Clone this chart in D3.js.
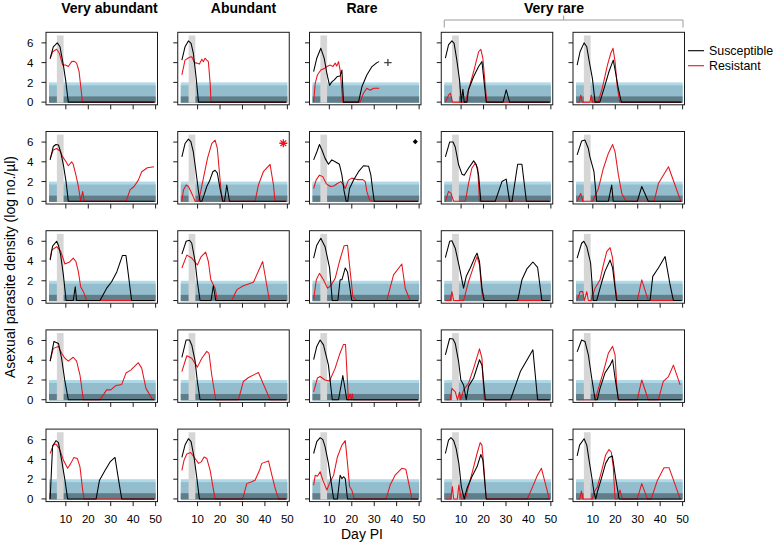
<!DOCTYPE html>
<html><head><meta charset="utf-8">
<script src="https://cdn.jsdelivr.net/npm/d3@7"></script>
<style>
body{margin:0;background:#fff}
svg{display:block}
text{font-family:"Liberation Sans",Arial,Helvetica,sans-serif;fill:#000}
</style>
</head><body>
<script>
// ---------------- data ----------------
const columnTitles = ["Very abundant", "Abundant", "Rare", "Very rare"];
const seriesNames = ["Susceptible", "Resistant"];
const xTicks = [10, 20, 30, 40, 50];
const yTicks = [0, 2, 4, 6];
const xDomain = [1.16, 50.84];
const yDomain = [-0.27, 7.07];
const treatmentDays = [6, 9];
const treatmentTop = 6.75;
const bandRange = [2.5, 50];
const bandLevels = [2, 1.7, 0.58];

// [day, log density] for each panel, row by row (5 panels per row)
const susceptibleRow1 = [
  [[3,4.4],[4.4,5.6],[6.2,6.0],[7.4,5.6],[8.9,3.75],[9.9,2.25],[11.1,0],[49.5,0]],
  [[3,4.25],[4.4,5.6],[5.9,6.2],[7.1,5.95],[8.1,4.95],[9.3,2.6],[10.4,0],[49.5,0]],
  [[3,3.1],[4.4,4.45],[6.2,5.45],[7.7,4.45],[8.9,2.9],[10.1,1.7],[11.1,2.05],[12.2,2.25],[13.6,2.6],[14.8,2.65],[15.6,3.25],[16.3,0],[23,0],[24.5,1.55],[26.7,2.75],[29,3.6],[31.2,4.0],[32.2,4.1]],
  [[3,4.45],[4.4,5.8],[5.9,6.2],[6.9,5.95],[8.1,4.25],[9.3,2.25],[10.1,0],[10.8,1.3],[11.4,0],[12.6,0],[13.3,1.25],[15.6,2.6],[17.8,3.6],[19.3,4.1],[20,2.6],[21.2,0],[28.7,0],[30.1,1.25],[31.6,0],[49.5,0]],
  [[3,3.75],[4.3,5.1],[6.1,6.0],[7.3,5.6],[8.3,4.25],[9.8,2.4],[11,0],[13.1,0],[15,1.4],[17.2,3.1],[19.1,4.25],[20.2,2.9],[21.2,1.55],[22.7,0],[49.5,0]]
];
const resistantRow1 = [
  [[3,4.4],[4.1,5.1],[5.9,5.35],[7.1,4.95],[8.6,3.75],[9.8,3.75],[11.1,3.6],[12.6,4.1],[13.6,4.15],[14.8,3.95],[15.9,3.1],[16.8,1.25],[17.4,0],[49.5,0]],
  [[3,2.75],[4.4,4.25],[6.4,4.55],[7.4,4.6],[8.6,4.0],[9.6,3.95],[10.8,3.85],[11.9,4.35],[12.6,4.1],[13.3,4.45],[14.1,4.25],[14.8,4.1],[15.6,1.9],[16,0],[49.5,0]],
  [[3,0],[3.7,1.9],[4.7,2.75],[6.2,3.25],[7.7,3.4],[8.9,3.6],[10.4,3.75],[11.6,3.6],[12.6,3.95],[13.3,3.65],[14.1,4.1],[14.8,3.25],[16,0],[23.7,0],[25.2,0.9],[26.7,1.4],[28.2,1.2],[29.7,1.4],[32.2,1.4]],
  [[3,0],[4.4,0.7],[5.2,0.9],[6.2,0],[11.9,0],[13.3,1.25],[15.6,3.1],[17.8,5.1],[18.8,5.35],[19.7,4.45],[20.8,1.55],[21.5,0],[49.5,0]],
  [[3,0],[4,0],[4.6,0.7],[5.3,0],[8.7,0],[9.3,0.7],[9.9,0],[12.3,0],[14.2,1.4],[16.5,3.75],[18,4.95],[19,5.45],[19.9,4.1],[20.9,1.55],[22,0],[49.5,0]]
];
const susceptibleRow2 = [
  [[3,4.2],[4.4,5.55],[5.6,5.75],[6.7,5.7],[7.7,5.0],[8.9,3.7],[10.1,2.0],[11.1,0],[49.5,0]],
  [[3,4.5],[4.4,5.85],[5.9,6.3],[7,6.05],[8.1,5.0],[9.3,3.0],[10.4,1.0],[11.1,0],[11.9,0],[12.9,0.65],[14.1,1.5],[15.3,2.05],[16.8,3.0],[17.8,3.15],[18.8,2.85],[20,1.3],[21.2,0],[22,0],[23,1.65],[24.2,0],[49.5,0]],
  [[3,4.2],[4.4,5.0],[5.6,5.75],[6.7,5.2],[8.1,4.35],[9.6,3.75],[11.1,4.2],[12.6,4.0],[14.5,3.75],[15.6,2.65],[16.6,1.0],[17.5,0],[18.2,0],[19,1.3],[20.8,2.15],[23,3.0],[25.2,3.6],[27.5,3.55],[28.5,2.65],[29.4,1.0],[30,0],[49.5,0]],
  [[3,4.5],[4.9,6.0],[6.4,6.0],[7.4,5.5],[8.9,3.7],[10.4,2.75],[11.4,2.65],[13.3,3.35],[15.6,4.1],[16.8,3.7],[17.8,2.65],[18.8,0],[25.2,0],[28.2,2.0],[30.1,2.25],[31.6,0],[32.7,0],[35.2,3.75],[37.1,3.75],[39.1,0],[49.5,0]],
  [[3,4.7],[5,6.1],[6.5,6.2],[8,5.35],[8.7,4.5],[10.5,3.0],[11.7,0],[16.9,0],[18.4,1.65],[19.1,0],[29.8,0],[31.8,1.5],[34.7,0],[49.5,0]]
];
const resistantRow2 = [
  [[3,4.35],[4.4,5.2],[5.9,5.35],[7.4,5.1],[8.6,4.5],[10.1,4.0],[11.1,3.6],[12.6,4.0],[13.3,3.75],[14.5,2.65],[15.6,1.5],[16.6,0],[17.5,1.0],[18.2,0],[36.8,0],[38.6,1.15],[40.4,1.5],[42.3,2.15],[43.8,3.0],[46.3,3.4],[49.3,3.5]],
  [[3,0],[3.7,1.15],[4.9,1.65],[5.9,1.5],[7,1.0],[8.1,0.45],[8.9,0],[10.4,0],[11.4,1.0],[12.6,2.35],[14.4,4.35],[16.3,5.85],[17.8,6.2],[18.8,5.35],[19.7,3.0],[20.5,1.0],[21.2,0],[35.6,0],[37.1,1.65],[39.3,3.0],[42.3,3.75],[43.8,1.65],[44.5,0],[49.5,0]],
  [[3,1.3],[4.1,2.15],[5.6,2.65],[7.1,2.5],[8.6,1.8],[10.4,1.5],[11.9,1.55],[13.6,1.8],[15.1,2.0],[16.3,1.65],[17.1,1.3],[18.5,2.15],[20,2.35],[22.3,2.2],[24.9,2.2],[26,2.0],[26.7,1.0],[27.9,0.15],[29,0],[49.5,0]],
  [[3,0],[4.4,1.0],[5.5,0.8],[6.7,0],[11.9,0],[13.3,1.8],[14.8,3.35],[16.3,3.85],[17.4,3.35],[18.2,0],[49.5,0]],
  [[3,0],[4.6,0.8],[5.5,0],[9.9,0],[12.5,1.3],[14.7,3.35],[16.9,4.85],[18.8,5.75],[19.9,5.0],[21.4,2.65],[22.9,0.8],[24.8,0],[37.3,0],[39.2,1.8],[43.7,3.5],[47.4,1.15],[49.2,0]]
];
const susceptibleRow3 = [
  [[3,4.1],[4.1,5.5],[5.9,6.0],[6.7,5.6],[7.7,4.6],[8.9,2.6],[10.1,0],[13.3,0],[14.2,1.4],[14.8,0],[25.2,0],[28.2,1.25],[30.4,1.9],[32.7,2.9],[35.2,4.55],[36.8,4.55],[39.3,0],[49.5,0]],
  [[3,4.7],[4.9,6.0],[6.4,6.1],[7.4,5.8],[8.9,3.95],[9.9,1.9],[11.1,0],[16,0],[17,1.5],[18.1,0],[49.5,0]],
  [[3,4.3],[4.4,5.6],[6.2,6.3],[8.1,5.45],[10.1,3.3],[11.3,0],[13.8,0],[14.8,2.1],[15.6,2.1],[17.1,3.3],[18.1,2.9],[20,0],[49.5,0]],
  [[3,4.35],[4.9,6.0],[5.9,6.05],[7.4,5.3],[9.3,3.3],[11.1,1.25],[12.3,2.45],[14.1,3.3],[16.3,4.45],[17.1,4.8],[18.2,3.95],[19.3,1.25],[20.3,0],[35.2,0],[37.1,2.1],[39.3,3.2],[42,3.9],[44.1,3.35],[46,0],[49.5,0]],
  [[3,4.3],[5,5.8],[6,6.0],[7.3,5.45],[9,3.8],[10.2,0],[11.7,0],[14,1.9],[15.4,2.95],[17.7,4.1],[18.8,3.3],[20.6,0],[35.5,0],[36.7,2.45],[39.2,3.3],[42.2,4.45],[44.4,1.6],[45.9,0],[49.5,0]]
];
const resistantRow3 = [
  [[3,4.2],[3.7,5.1],[5.9,5.45],[7.7,5.0],[9.6,3.7],[11.6,3.9],[13.3,4.3],[14.5,3.95],[15.6,2.9],[16.6,1.4],[17.8,0.9],[19.3,0],[49.5,0]],
  [[3,3.3],[5.2,4.6],[7.4,4.3],[9.9,3.6],[11.6,4.45],[13.6,4.9],[14.8,3.95],[15.9,2.1],[17.8,1.25],[18.8,0],[25.2,0],[27.5,1.1],[30.4,1.5],[34.9,1.85],[39,3.95],[42,0],[49.5,0]],
  [[3,0.1],[4.2,2.1],[5.6,2.75],[7.4,2.1],[9.2,1.25],[10.7,1.5],[12.6,2.25],[14.5,3.95],[16.6,5.55],[18.1,5.6],[19.3,2.9],[20.5,0.4],[22.3,0],[35.6,0],[38.6,2.6],[42.3,3.7],[43.8,1.25],[46,0],[49.5,0]],
  [[3,0],[5.2,0],[5.9,0.9],[6.7,0],[11.1,0],[13.3,1.9],[15.6,3.45],[17.1,4.45],[18.2,3.6],[19.3,0.75],[20.3,0],[49.5,0]],
  [[3,0],[4.3,0.9],[5.5,0.9],[6.2,0],[7.3,0.9],[8,0],[9.2,0],[11,1.25],[13.2,2.1],[14.7,3.6],[16.2,4.95],[17.7,5.35],[18.8,4.3],[19.9,1.6],[20.9,0],[29.8,0],[31.8,2.1],[34.7,0],[49.5,0]]
];
const susceptibleRow4 = [
  [[3,3.9],[4.7,5.9],[6.7,5.7],[8.1,4.2],[9.6,1.85],[11.1,0],[49.5,0]],
  [[3,4.3],[4.9,6.05],[6.4,6.05],[7.4,5.55],[8.9,3.9],[9.9,1.85],[11.1,0],[49.5,0]],
  [[3,4.05],[4.4,5.4],[5.9,6.05],[7.4,5.55],[9.6,3.5],[11.3,0],[14.1,0],[16,2.45],[17.8,0],[49.5,0]],
  [[3,4.55],[4.9,6.2],[6.4,6.15],[7.4,5.7],[8.9,3.85],[9.9,2.0],[11.1,1.5],[12.3,0],[13.3,1.35],[15.6,2.2],[18.2,4.05],[19.3,3.5],[20.8,0],[32,0],[36.4,2.85],[42,5.05],[44.1,0],[49.5,0]],
  [[3,4.85],[5,6.05],[6.5,5.9],[8,4.55],[9.5,2.2],[11,0],[12,0],[13.2,1.15],[15.4,2.7],[17.7,3.5],[18.8,4.05],[19.9,2.2],[21.4,0],[49.5,0]]
];
const resistantRow4 = [
  [[3,3.9],[4.4,5.2],[6.7,5.4],[8.1,4.7],[9.6,4.2],[11.1,3.9],[13.3,4.3],[14.8,3.9],[16.3,2.5],[17.8,0],[25.2,0],[28.2,1.0],[30,1.0],[32.4,1.45],[34.9,1.55],[36.8,2.7],[38.9,3.0],[42.3,3.75],[43.8,3.2],[45.7,1.15],[48.7,0]],
  [[3,2.85],[5.2,4.45],[7.4,4.2],[9.9,3.3],[11.9,4.2],[14.1,4.9],[15.1,4.7],[16.3,2.5],[18.1,0],[28.2,0],[30.4,1.85],[32.7,2.25],[37.1,2.75],[42.3,0],[49.5,0]],
  [[3,0.8],[4.7,2.2],[5.9,2.35],[8.1,2.0],[10.1,1.9],[12.6,3.2],[14.5,4.55],[16.3,5.6],[17.2,5.6],[18.5,0],[19.2,0.6],[19.8,0],[20.2,0.6],[20.7,0],[49.5,0]],
  [[3,0],[5.2,0],[5.9,1.15],[7.4,0.8],[8.4,0],[9.3,0.75],[9.9,0],[11.1,1.0],[13.3,1.65],[15.6,3.2],[18.2,5.15],[19.3,4.2],[20.3,0],[49.5,0]],
  [[3,0],[11,0],[12.5,1.15],[14.7,2.85],[16.9,4.7],[18.8,5.4],[19.9,4.55],[20.6,1.5],[21.4,0],[29.8,0],[31.8,2.0],[34.7,0],[39.2,0],[41.4,1.85],[43.7,2.35],[45.9,3.5],[48.9,1.5]]
];
const susceptibleRow5 = [
  [[3,0],[4.1,5.35],[5.6,5.9],[6.7,5.7],[8.1,3.95],[9.6,1.9],[10.8,0],[23.5,0],[25,1.9],[27.5,2.9],[29.7,3.75],[31.9,4.2],[33.4,2.05],[34.9,0],[49.5,0]],
  [[3,4.2],[4.4,5.45],[5.9,6.1],[7.1,5.8],[8.4,4.25],[9.6,2.25],[10.8,0],[49.5,0]],
  [[3,4.6],[4.4,5.8],[5.9,6.2],[7.1,6.0],[8.1,5.3],[9.6,3.6],[11.1,1.25],[11.9,0],[13.6,0],[14.8,2.4],[15.6,2.05],[16.3,2.25],[17.1,2.05],[18.1,0],[49.5,0]],
  [[3,4.6],[4.4,5.95],[5.5,6.2],[6.7,5.9],[7.8,5.1],[9,3.6],[10.1,1.25],[11.4,0],[12.6,1.05],[14.8,2.25],[17.1,3.25],[18.8,4.5],[19.7,3.95],[21.2,0],[49.5,0]],
  [[3,4.35],[4.1,5.45],[6.1,6.1],[7.3,5.45],[8.3,3.95],[9.5,2.25],[10.5,0.7],[11.3,0],[12,0.7],[13.8,2.05],[15.7,3.6],[17.2,4.2],[18.7,4.35],[20.2,2.05],[21.7,0],[49.5,0]]
];
const resistantRow5 = [
  [[3,4.6],[4.4,5.45],[5.6,5.55],[7.1,5.1],[8.9,3.95],[10.8,3.1],[12.2,3.6],[13.6,4.2],[15.1,4.1],[16.3,3.25],[17.5,0.9],[18.1,0],[49.5,0]],
  [[3,2.9],[4,3.95],[5.2,4.55],[6.9,4.7],[8.4,4.25],[10.4,3.6],[11.6,3.75],[12.9,4.25],[14.1,4.1],[15.6,2.9],[17.1,0.9],[17.8,0],[30.1,0],[31.9,1.55],[34.1,1.75],[35.6,1.9],[37.6,2.9],[38.6,3.6],[41.6,3.85],[43.1,2.4],[44.6,1.05],[46.1,0],[49.5,0]],
  [[3,1.4],[3.7,2.4],[4.7,2.3],[5.9,2.75],[7.1,1.9],[8.9,0.9],[10.4,1.75],[11.9,2.4],[13.6,4.25],[15.6,5.45],[17.1,5.9],[18.1,3.6],[19,1.25],[20,0.9],[21.1,0],[35.3,0],[37.1,1.4],[39.3,2.4],[42.3,3.1],[44.1,3.0],[45.7,1.25],[46.8,0],[49.5,0]],
  [[3,0],[5.4,0],[6.1,1.25],[6.7,0],[8.3,0],[9,1.4],[10.1,0],[11.9,0],[13.3,1.25],[15.6,3.25],[17.1,4.6],[18.5,5.7],[19.3,5.45],[20,3.6],[21.2,0],[39.5,0],[42,1.3],[44,2.4],[45.8,3.1],[49.3,0]],
  [[3,0],[4.2,0],[4.9,0.8],[5.6,0],[9.8,0],[10.5,0.7],[12,1.2],[13.8,2.75],[15.7,4.45],[17.2,5.0],[18.2,4.75],[19.1,3.25],[19.9,0],[20.9,0],[22.1,0.9],[23.1,0],[29.8,0],[31.8,1.55],[34.3,0],[36,0],[38.8,1.9],[41.7,3.15],[44,3.15],[48.9,0]]
];

// annotation symbols: [row, col, day, value, kind]
const annotations = [
  [0, 2, 36.1, 4.0, "plus"],
  [1, 1, 48.2, 5.88, "asterisk"],
  [1, 2, 48.3, 6.04, "diamond"]
];

const susceptible = [susceptibleRow1, susceptibleRow2, susceptibleRow3, susceptibleRow4, susceptibleRow5];
const resistant = [resistantRow1, resistantRow2, resistantRow3, resistantRow4, resistantRow5];

// ---------------- layout ----------------
const W = 774, H = 544;
const panelW = 111.5, panelH = 72.5;
const colStep = 131.75, rowStep = 99.2;
const left0 = 46, top0 = 32.3;
const titleX = [109.5, 243.5, 362, 554];
const colorS = "#000000", colorR = "#e8141c";
const bandColors = ["#b0d9e7", "#93bdcc", "#607e89"];
const greyBand = "#d6d6d6";

const svg = d3.select("body").append("svg").attr("width", W).attr("height", H);

const x = d3.scaleLinear().domain(xDomain).range([0, panelW]);
const y = d3.scaleLinear().domain(yDomain).range([panelH, 0]);
const line = d3.line().x(d => x(d[0])).y(d => y(d[1]));

for (let r = 0; r < 5; r++) {
  for (let c = 0; c < 5; c++) {
    const g = svg.append("g").attr("transform", `translate(${left0 + c * colStep},${top0 + r * rowStep})`);
    // threshold bands
    bandLevels.forEach((lv, i) => {
      g.append("rect")
        .attr("x", x(bandRange[0])).attr("width", x(bandRange[1]) - x(bandRange[0]))
        .attr("y", y(lv)).attr("height", y(-0.06) - y(lv))
        .attr("fill", bandColors[i]);
    });
    // treatment window
    g.append("rect")
      .attr("x", x(treatmentDays[0])).attr("width", x(treatmentDays[1]) - x(treatmentDays[0]))
      .attr("y", y(treatmentTop)).attr("height", y(-0.06) - y(treatmentTop))
      .attr("fill", greyBand);
    // lines
    g.append("path").attr("d", line(resistant[r][c])).attr("fill", "none")
      .attr("stroke", colorR).attr("stroke-width", 1.05).attr("stroke-linejoin", "round");
    g.append("path").attr("d", line(susceptible[r][c])).attr("fill", "none")
      .attr("stroke", colorS).attr("stroke-width", 1.05).attr("stroke-linejoin", "round");
    // box
    g.append("rect").attr("x", 0).attr("y", 0).attr("width", panelW).attr("height", panelH)
      .attr("fill", "none").attr("stroke", "#1a1a1a").attr("stroke-width", 1);
    // y ticks
    yTicks.forEach(t => {
      g.append("line").attr("x1", 0).attr("x2", -4.5).attr("y1", y(t)).attr("y2", y(t))
        .attr("stroke", "#1a1a1a").attr("stroke-width", 1);
      if (c === 0) {
        g.append("text").attr("x", -12.5).attr("y", y(t)).attr("dy", "0.36em")
          .attr("text-anchor", "end").attr("font-size", 11.5).text(t);
      }
    });
    // x ticks
    xTicks.forEach(t => {
      g.append("line").attr("x1", x(t)).attr("x2", x(t)).attr("y1", panelH).attr("y2", panelH + 4.5)
        .attr("stroke", "#1a1a1a").attr("stroke-width", 1);
      if (r === 4) {
        g.append("text").attr("x", x(t)).attr("y", panelH + 21).attr("text-anchor", "middle")
          .attr("font-size", 11.5).text(t);
      }
    });
  }
}

// annotations
annotations.forEach(([r, c, d, v, kind]) => {
  const cx = left0 + c * colStep + x(d), cy = top0 + r * rowStep + y(v);
  const g = svg.append("g").attr("transform", `translate(${cx},${cy})`);
  if (kind === "plus") {
    g.append("path").attr("d", "M-3.7,0H3.7M0,-3.5V3.5").attr("stroke", "#444").attr("stroke-width", 1.3);
  } else if (kind === "asterisk") {
    g.append("path").attr("d", "M-4,0H4M0,-4V4M-2.9,-2.9L2.9,2.9M-2.9,2.9L2.9,-2.9")
      .attr("stroke", colorR).attr("stroke-width", 1.3);
  } else if (kind === "diamond") {
    g.append("path").attr("d", d3.symbol().type(d3.symbolSquare).size(13)())
      .attr("transform", "rotate(45)").attr("fill", "#000");
  }
});

// column titles
columnTitles.forEach((t, i) => {
  svg.append("text").attr("x", titleX[i]).attr("y", 13).attr("text-anchor", "middle")
    .attr("font-size", 14).attr("font-weight", "bold").text(t);
});
// bracket over "Very rare"
const bl = left0 + 3 * colStep + 3, br = left0 + 4 * colStep + panelW - 1.5;
svg.append("path")
  .attr("d", `M${bl},27.5V20H${br}V27.5M${(bl + br) / 2},20V15.5`)
  .attr("fill", "none").attr("stroke", "#9a9a9a").attr("stroke-width", 1);

// legend
seriesNames.forEach((n, i) => {
  const ly = 50.7 + i * 15;
  svg.append("line").attr("x1", 688).attr("x2", 704).attr("y1", ly).attr("y2", ly)
    .attr("stroke", i === 0 ? colorS : colorR).attr("stroke-width", 1.1);
  svg.append("text").attr("x", 709).attr("y", ly).attr("dy", "0.36em").attr("font-size", 12.4).text(n);
});

// axis titles
svg.append("text").attr("x", 362).attr("y", 539).attr("text-anchor", "middle").attr("font-size", 14).text("Day PI");
svg.append("text").attr("transform", "translate(15,267) rotate(-90)").attr("text-anchor", "middle")
  .attr("font-size", 14).text("Asexual parasite density (log no./µl)");
</script>
</body></html>
